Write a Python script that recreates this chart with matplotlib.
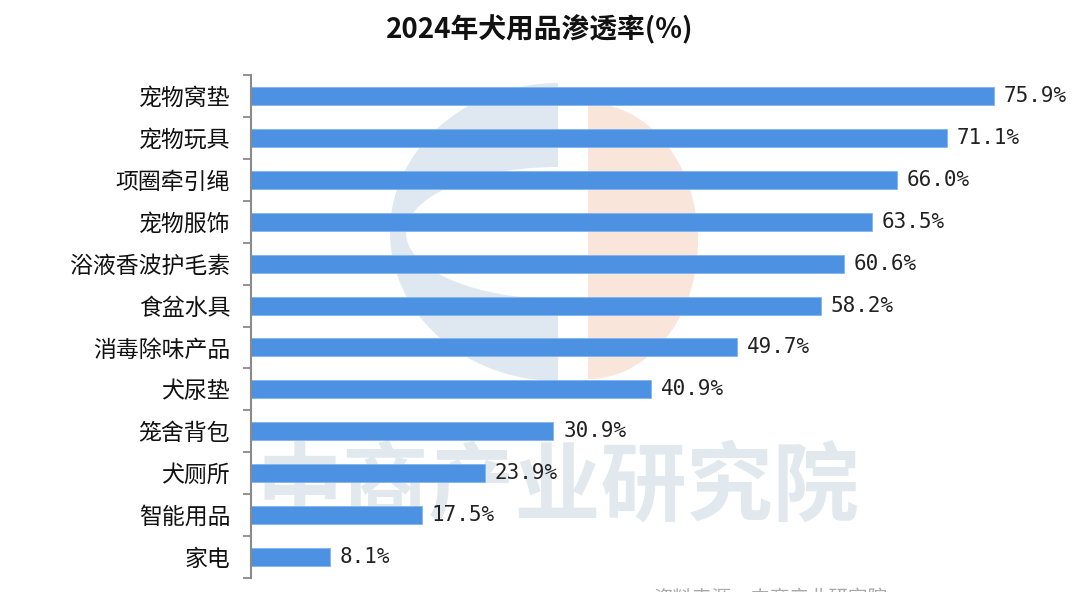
import numpy as np
import matplotlib
matplotlib.use("Agg")
import matplotlib.pyplot as plt
from matplotlib.patches import Polygon

plt.rcParams["font.family"] = ["Noto Sans CJK SC", "DejaVu Sans"]

categories = ["宠物窝垫", "宠物玩具", "项圈牵引绳", "宠物服饰", "浴液香波护毛素", "食盆水具",
              "消毒除味产品", "犬尿垫", "笼舍背包", "犬厕所", "智能用品", "家电"]
values = [75.9, 71.1, 66.0, 63.5, 60.6, 58.2, 49.7, 40.9, 30.9, 23.9, 17.5, 8.1]
title = "2024年犬用品渗透率(%)"

fig = plt.figure(figsize=(10.8, 5.92), dpi=100)

# watermark layer in pixel coordinates
bg = fig.add_axes([0, 0, 1, 1], zorder=0)
bg.set_xlim(0, 1080)
bg.set_ylim(592, 0)
bg.axis("off")

t = np.linspace(np.pi / 2, 3 * np.pi / 2, 60)
left_c = np.column_stack([558 + 168 * np.cos(t), 232 - 149 * np.sin(t)])
bg.add_patch(Polygon(left_c, closed=True, color="#dfe8f0", lw=0))
inner = np.column_stack([558 + 152 * np.cos(t), 233 - 66 * np.sin(t)])
bg.add_patch(Polygon(inner, closed=True, color="white", lw=0))
t2 = np.linspace(-np.pi / 2, np.pi / 2, 60)
right_d = np.column_stack([588 + 110 * np.cos(t2), 241 - 138 * np.sin(t2)])
bg.add_patch(Polygon(right_d, closed=True, color="#fae5db", lw=0))

bg.text(558, 488, "中商产业研究院", fontsize=62, fontweight="bold", color="#e1e8ee",
        ha="center", va="center")
bg.text(770, 588, "资料来源：中商产业研究院", fontsize=14, color="#aaaaaa",
        ha="center", va="top")

ax = fig.add_axes([251 / 1080, 1 - 578 / 592, 822 / 1080, (578 - 75) / 592], zorder=1)
ax.patch.set_alpha(0)

y = np.arange(len(categories))
ax.barh(y, values, height=0.43, color="#4d91e3", edgecolor="#80b4f0", linewidth=0.6)
ax.set_ylim(len(categories) - 0.5, -0.5)
ax.set_xlim(0, 84)

for yi, v in zip(y, values):
    ax.annotate(f"{v:.1f}%", (v, yi), xytext=(7, 0), textcoords="offset points",
                va="center", ha="left", fontsize=15, family="DejaVu Sans Mono",
                color="#222222")

ax.set_yticks(y)
ax.set_yticklabels(categories, fontsize=16.5, color="#111111")
ax.tick_params(axis="y", which="major", length=0, pad=15)
ax.set_yticks(np.arange(-0.5, len(categories), 1), minor=True)
ax.tick_params(axis="y", which="minor", length=6, width=1.3, color="#8a8a8a")
ax.set_xticks([])
for s in ["top", "right", "bottom"]:
    ax.spines[s].set_visible(False)
ax.spines["left"].set_color("#8a8a8a")
ax.spines["left"].set_linewidth(1.5)

fig.text(0.5, 1 - 30 / 592, title, fontsize=20, fontweight="bold", ha="center",
         va="center", color="#111111")

fig.savefig("out.png", dpi=100)
